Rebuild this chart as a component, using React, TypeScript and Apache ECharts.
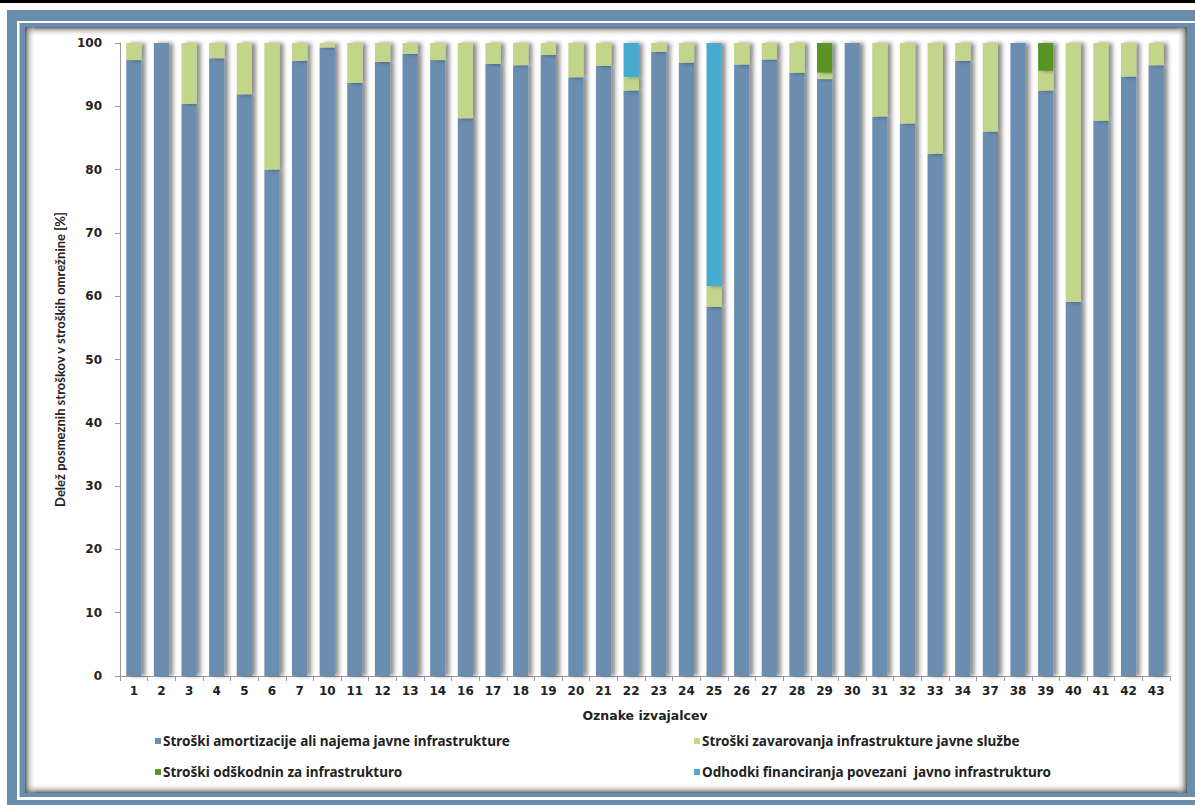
import React, { useEffect, useRef } from "react";
import * as echarts from "echarts";

const categories = ["1","2","3","4","5","6","7","10","11","12","13","14","16","17","18","19","20","21","22","23","24","25","26","27","28","29","30","31","32","33","34","37","38","39","40","41","42","43"];

const amortizacija = [97.3,100,90.4,97.6,91.9,80.0,97.2,99.3,93.7,97.0,98.3,97.3,88.1,96.7,96.5,98.1,94.6,96.4,92.5,98.6,96.9,58.3,96.6,97.4,95.3,94.3,100,88.4,87.3,82.5,97.2,86.0,100,92.5,59.1,87.7,94.7,96.5];
const zavarovanje = [2.7,0,9.6,2.4,8.1,20.0,2.8,0.7,6.3,3.0,1.7,2.7,11.9,3.3,3.5,1.9,5.4,3.6,2.1,1.4,3.1,3.3,3.4,2.6,4.7,1.0,0,11.6,12.7,17.5,2.8,14.0,0,3.1,40.9,12.3,5.3,3.5];
const odskodnine = [0,0,0,0,0,0,0,0,0,0,0,0,0,0,0,0,0,0,0,0,0,0,0,0,0,4.7,0,0,0,0,0,0,0,4.4,0,0,0,0];
const financiranje = [0,0,0,0,0,0,0,0,0,0,0,0,0,0,0,0,0,0,5.4,0,0,38.4,0,0,0,0,0,0,0,0,0,0,0,0,0,0,0,0];

const yTicks = { min: 0, max: 100, interval: 10 };

const seriesNames = [
  "Stroški amortizacije ali najema javne infrastrukture",
  "Stroški zavarovanja infrastrukture javne službe",
  "Stroški odškodnin za infrastrukturo",
  "Odhodki financiranja povezani  javno infrastrukturo",
];
const seriesColors = ["#6a8db0", "#c3d58b", "#5a9327", "#4aaad0"];
const seriesData = [amortizacija, zavarovanje, odskodnine, financiranje];

const W = 1195;
const H = 805;
const legendFont = "'Noto Sans', 'Open Sans', sans-serif";
const titleFont = "Lato, 'Open Sans', sans-serif";

function edgeGrad(x: number, y: number, x2: number, y2: number) {
  return new echarts.graphic.LinearGradient(x, y, x2, y2, [
    { offset: 0, color: "rgba(70,70,70,0.85)" },
    { offset: 0.4, color: "rgba(150,150,150,0.45)" },
    { offset: 1, color: "rgba(255,255,255,0)" },
  ]);
}

export default function App() {
  const ref = useRef<HTMLDivElement>(null);
  useEffect(() => {
    if (!ref.current) return;
    const chart = echarts.init(ref.current, null, { renderer: "svg" });
    const frameBlue = "#6a8cad";
    const legendBase = {
      orient: "vertical",
      top: 729,
      itemGap: 17,
      itemWidth: 6,
      itemHeight: 6,
      icon: "rect",
      textStyle: { fontFamily: legendFont, fontWeight: "bold", fontSize: 13.5, color: "#222", padding: [0, 0, 0, -3] },
    };
    chart.setOption({
      animation: false,
      backgroundColor: "#ffffff",
      graphic: [
        { type: "rect", z: -10, shape: { x: 0, y: 0, width: W, height: 3 }, style: { fill: "#000" } },
        { type: "rect", z: -10, shape: { x: 7, y: 10, width: W - 7, height: H - 10 }, style: { fill: frameBlue } },
        { type: "rect", z: -10, shape: { x: 17, y: 21, width: W - 17, height: 779 }, style: { fill: "#ffffff" } },
        { type: "rect", z: -10, shape: { x: 19.5, y: 23, width: W - 19.5, height: 774 }, style: { fill: frameBlue } },
        { type: "rect", z: -10, shape: { x: 25, y: 27, width: 1162, height: 766 }, style: { fill: "#ffffff" } },
        { type: "rect", z: -9, shape: { x: 25, y: 27, width: 1162, height: 10 }, style: { fill: edgeGrad(0, 0, 0, 1) } },
        { type: "rect", z: -9, shape: { x: 25, y: 783, width: 1162, height: 10 }, style: { fill: edgeGrad(0, 1, 0, 0) } },
        { type: "rect", z: -9, shape: { x: 25, y: 27, width: 11, height: 766 }, style: { fill: edgeGrad(0, 0, 1, 0) } },
        { type: "rect", z: -9, shape: { x: 1176, y: 27, width: 11, height: 766 }, style: { fill: edgeGrad(1, 0, 0, 0) } },
      ],
      legend: [
        { ...legendBase, data: [seriesNames[0], seriesNames[2]], left: 150 },
        { ...legendBase, data: [seriesNames[1], seriesNames[3]], left: 689 },
      ],
      grid: { left: 120, right: 25, top: 43, bottom: 129, containLabel: false },
      xAxis: {
        type: "category",
        data: categories,
        name: "Oznake izvajalcev",
        nameLocation: "middle",
        nameGap: 33,
        nameTextStyle: { fontFamily: "DejaVu Sans", fontWeight: "bold", fontSize: 12.5, color: "#222" },
        axisLine: { lineStyle: { color: "#999" } },
        axisTick: { show: true, length: 5, lineStyle: { color: "#999" } },
        axisLabel: { fontFamily: "DejaVu Sans", fontWeight: "bold", fontSize: 12, color: "#222", margin: 9, interval: 0 },
      },
      yAxis: {
        type: "value",
        min: yTicks.min,
        max: yTicks.max,
        interval: yTicks.interval,
        name: "Delež posmeznih stroškov v stroških omrežnine [%]",
        nameLocation: "middle",
        nameGap: 53,
        nameRotate: 90,
        nameTextStyle: { fontFamily: titleFont, fontWeight: "bold", fontSize: 13, color: "#222" },
        axisLine: { show: true, lineStyle: { color: "#999" } },
        axisTick: { show: true, length: 5, lineStyle: { color: "#999" } },
        splitLine: { show: false },
        axisLabel: { fontFamily: "DejaVu Sans", fontWeight: "bold", fontSize: 12, color: "#222", margin: 18 },
      },
      series: seriesNames.map((name, i) => ({
        name,
        type: "bar",
        stack: "total",
        barWidth: "55%",
        data: seriesData[i],
        itemStyle: {
          color: seriesColors[i],
          shadowColor: "rgba(0,0,0,0.45)",
          shadowBlur: 4,
          shadowOffsetX: 4,
          shadowOffsetY: 0,
        },
      })),
    });
    return () => chart.dispose();
  }, []);
  return (
    <div style={{ position: "fixed", left: 0, top: 0, width: W, height: H }}>
      <div ref={ref} style={{ width: W, height: H }} />
    </div>
  );
}
